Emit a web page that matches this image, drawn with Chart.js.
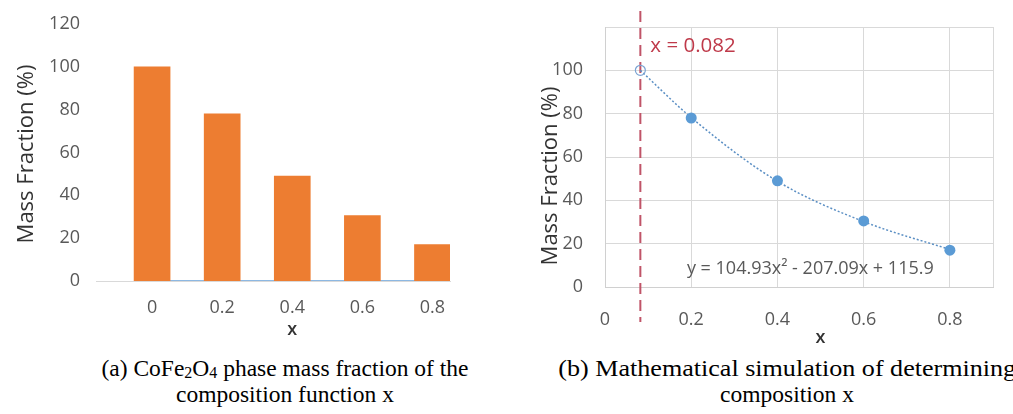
<!DOCTYPE html>
<html><head><meta charset="utf-8">
<script src="https://cdn.jsdelivr.net/npm/chart.js@4.4.1/dist/chart.umd.min.js"></script>
<style>
html,body{margin:0;padding:0;background:#fff;overflow:hidden;}
#wrap{position:relative;width:1013px;height:414px;overflow:hidden;background:#fff;}
#c1{position:absolute;left:0;top:0;}
#c2{position:absolute;left:505px;top:0;}
.cap{position:absolute;font-family:"Liberation Serif","Times New Roman",serif;font-size:23.5px;color:#000;white-space:nowrap;text-align:center;line-height:26px;}
.cap sub{font-size:0.68em;vertical-align:-0.15em;line-height:0;}
.wide{display:inline-block;transform:scaleX(1.11);transform-origin:50% 50%;}
</style></head><body>
<div id="wrap">
<canvas id="c1" width="505" height="350"></canvas>
<canvas id="c2" width="508" height="350"></canvas>
<div class="cap" style="left:35px;top:355px;width:500px;">(a) CoFe<sub>2</sub>O<sub>4</sub> phase mass fraction of the<br>composition function x</div>
<div class="cap" style="left:517px;top:355px;width:540px;"><span class="wide">(b) Mathematical simulation of determining</span><br>composition x</div>
</div>
<script>
// ---- data ----
const barX = [0, 0.2, 0.4, 0.6, 0.8];
const barValues = [100, 78, 49, 30.5, 17];
const zeroSeries = [0, 0, 0, 0, 0];
const leftXTicks = [0, 0.2, 0.4, 0.6, 0.8];
const leftYTicks = [0, 20, 40, 60, 80, 100, 120];

const simX = [0.2, 0.4, 0.6, 0.8];
const simValues = [78, 49, 30.5, 17];
const interceptX = [0.082];
const interceptY = [100];
const trendX = [0.082, 0.2, 0.4, 0.6, 0.8];
const trendY = [100, 78.2, 48.8, 30.2, 17.3];
const rightXTicks = [0, 0.2, 0.4, 0.6, 0.8];
const rightYTicks = [0, 20, 40, 60, 80, 100];
const markerValue = 0.082;
const markerLabel = 'x = 0.082';
const equationLabel = 'y = 104.93x\u00B2 - 207.09x + 115.9';

const FONT = '"Open Sans", "Liberation Sans", sans-serif';

function makeTextPlugin(items) {
  return {
    id: 'texts',
    afterDraw(chart) {
      const ctx = chart.ctx;
      items.forEach(it => {
        const p = it.pos(chart);
        ctx.save();
        ctx.font = it.font;
        ctx.fillStyle = it.color;
        ctx.textAlign = it.align || 'center';
        ctx.textBaseline = 'middle';
        ctx.translate(p.x, p.y);
        if (it.rotate) ctx.rotate(it.rotate);
        ctx.fillText(it.text, 0, 0);
        ctx.restore();
      });
    }
  };
}

function markerPlugin(value, color) {
  return {
    id: 'marker',
    beforeDatasetsDraw(chart) {
      const ctx = chart.ctx;
      const x = chart.scales.x.getPixelForValue(value);
      const {top, bottom} = chart.chartArea;
      ctx.save();
      ctx.strokeStyle = color;
      ctx.lineWidth = 2;
      ctx.setLineDash([11, 6]);
      ctx.beginPath();
      ctx.moveTo(x, top - 16);
      ctx.lineTo(x, bottom + 35);
      ctx.stroke();
      ctx.restore();
    }
  };
}

const tickFont = {family: FONT, size: 18};

// ---- chart (a) ----
new Chart(document.getElementById('c1'), {
  type: 'bar',
  data: {
    datasets: [
      { type: 'bar', data: barX.map((x, i) => ({x, y: barValues[i]})),
        backgroundColor: '#ed7d31', borderWidth: 0, barThickness: 36, order: 1 },
      { type: 'line', data: barX.map((x, i) => ({x, y: zeroSeries[i]})),
        borderColor: '#8db8e2', borderWidth: 2, pointRadius: 0, order: 2 }
    ]
  },
  options: {
    responsive: false, animation: false, events: [],
    layout: {padding: {top: 24, right: 55, left: 0, bottom: 0}},
    plugins: {legend: {display: false}, tooltip: {enabled: false}},
    scales: {
      x: {
        type: 'linear', min: -0.16, max: 0.85, offset: false,
        afterBuildTicks: s => { s.ticks = leftXTicks.map(v => ({value: v})); },
        afterFit: s => { s.height = 69; s.paddingLeft = 0; s.paddingRight = 0; },
        grid: {display: false, drawTicks: false, offset: false},
        border: {display: true, color: '#d9d9d9', width: 1},
        ticks: {padding: 16, color: '#595959', font: tickFont, maxRotation: 0, autoSkip: false,
                callback: v => String(v)}
      },
      y: {
        min: 0, max: 120,
        afterBuildTicks: s => { s.ticks = leftYTicks.map(v => ({value: v})); },
        afterFit: s => { s.width = 96; s.paddingTop = 0; s.paddingBottom = 0; },
        grid: {display: false, drawTicks: false},
        border: {display: false},
        ticks: {padding: 16, color: '#595959', font: tickFont, callback: v => String(v)}
      }
    }
  },
  plugins: [makeTextPlugin([
    {text: 'Mass Fraction (%)', font: '22px ' + FONT, color: '#333333', rotate: -Math.PI / 2,
     pos: c => ({x: 27, y: 154})},
    {text: 'x', font: '600 18px ' + FONT, color: '#333333',
     pos: c => ({x: c.scales.x.getPixelForValue(0.4), y: 330})}
  ])]
});

// ---- chart (b) ----
new Chart(document.getElementById('c2'), {
  type: 'scatter',
  data: {
    datasets: [
      { data: simX.map((x, i) => ({x, y: simValues[i]})), pointRadius: 5.5,
        backgroundColor: '#5b9bd5', borderColor: '#5b9bd5', borderWidth: 0, order: 1 },
      { data: interceptX.map((x, i) => ({x, y: interceptY[i]})), pointRadius: 5,
        backgroundColor: 'rgba(0,0,0,0)', borderColor: '#7ba3d3', borderWidth: 1.2, order: 2 },
      { data: trendX.map((x, i) => ({x, y: trendY[i]})), showLine: true, pointRadius: 0,
        borderColor: '#5b8fc4', borderWidth: 1.5, borderDash: [2, 2], tension: 0.4,
        cubicInterpolationMode: 'monotone', order: 3 }
    ]
  },
  options: {
    responsive: false, animation: false, events: [],
    layout: {padding: {top: 27, right: 20, left: 0, bottom: 0}},
    plugins: {legend: {display: false}, tooltip: {enabled: false}},
    scales: {
      x: {
        type: 'linear', min: 0, max: 0.9,
        afterBuildTicks: s => { s.ticks = rightXTicks.concat([0.9]).map(v => ({value: v})); },
        afterFit: s => { s.height = 63; s.paddingLeft = 0; s.paddingRight = 0; },
        grid: {color: '#d9d9d9', drawTicks: false},
        border: {display: true, color: '#d0d0d0', width: 1},
        ticks: {padding: 22, color: '#595959', font: tickFont, maxRotation: 0, autoSkip: false,
                callback: v => rightXTicks.includes(v) ? String(v) : ''}
      },
      y: {
        min: 0, max: 120,
        afterBuildTicks: s => { s.ticks = rightYTicks.concat([120]).map(v => ({value: v})); },
        afterFit: s => { s.width = 100; s.paddingTop = 0; s.paddingBottom = 0; },
        grid: {color: '#d9d9d9', drawTicks: false},
        border: {display: true, color: '#d0d0d0', width: 1},
        ticks: {padding: 22, color: '#595959', font: tickFont,
                callback: v => rightYTicks.includes(v) ? String(v) : ''}
      }
    }
  },
  plugins: [markerPlugin(markerValue, '#c05468'), makeTextPlugin([
    {text: 'Mass Fraction (%)', font: '22px ' + FONT, color: '#333333', rotate: -Math.PI / 2,
     pos: c => ({x: 46, y: 176})},
    {text: 'x', font: '600 18px ' + FONT, color: '#333333',
     pos: c => ({x: c.scales.x.getPixelForValue(0.5), y: 338})},
    {text: markerLabel, font: '20.5px ' + FONT, color: '#bf3a4a', align: 'left',
     pos: c => ({x: c.scales.x.getPixelForValue(markerValue) + 10, y: c.scales.y.getPixelForValue(111)})},
    {text: equationLabel, font: '18px ' + FONT, color: '#595959', align: 'left',
     pos: c => ({x: c.scales.x.getPixelForValue(0.19), y: c.scales.y.getPixelForValue(8.3)})}
  ])]
});
</script>
</body></html>
